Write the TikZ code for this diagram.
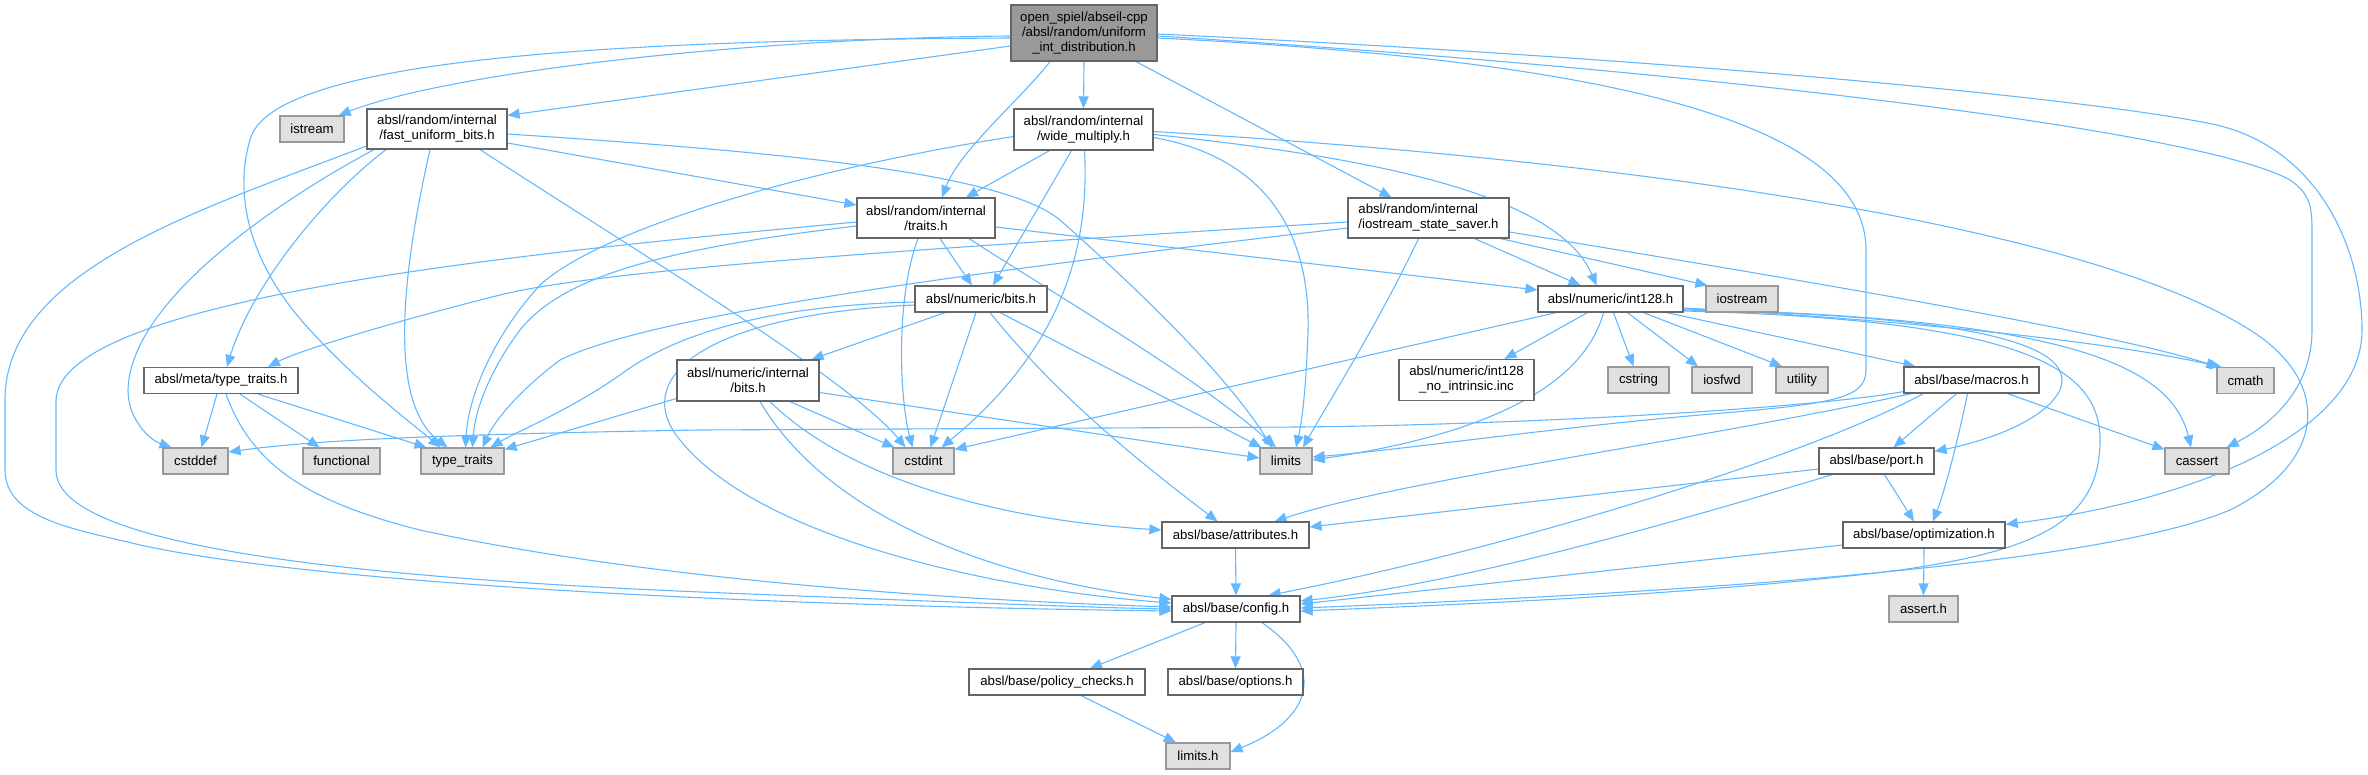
\documentclass[tikz,border=0pt]{standalone}
\usepackage{fontspec}
\setmainfont{Liberation Sans}
\usetikzlibrary{arrows.meta,calc}
\definecolor{edgec}{HTML}{63B8FF}
\definecolor{bord}{HTML}{666666}
\definecolor{gbord}{HTML}{999999}
\definecolor{gfill}{HTML}{E0E0E0}
\definecolor{topfill}{HTML}{999999}
\pgfdeclarelayer{bg}
\pgfsetlayers{bg,main}
\tikzset{
  nd/.style={draw=bord, fill=white, line width=1.2pt, inner sep=0pt, minimum height=26pt,
     font=\fontsize{13.2}{15}\selectfont, align=center, text=black},
  ext/.style={nd, draw=gbord, fill=gfill},
  topnd/.style={nd, fill=topfill, draw=bord},
  ed/.style={draw=edgec, line width=1.1pt, -{Triangle[length=12pt,width=10pt]}},
}
\begin{document}
\begin{tikzpicture}[x=1pt,y=-1pt]
\useasboundingbox (0,0) rectangle (2368,774);
% nodes
\node[topnd, minimum width=146pt, minimum height=56pt] (T) at (1084,33) {open\_spiel/abseil-cpp\\/absl/random/uniform\\\_int\_distribution.h};
\node[ext, minimum width=64pt] (istream) at (312,129) {istream};
\node[nd, minimum width=140pt, minimum height=40pt] (fub) at (437,129) {absl/random/internal\\/fast\_uniform\_bits.h};
\node[nd, minimum width=139pt, minimum height=41pt] (wm) at (1083.5,129.5) {absl/random/internal\\/wide\_multiply.h};
\node[nd, minimum width=138pt, minimum height=40pt] (tr) at (926,218) {absl/random/internal\\/traits.h};
\node[nd, minimum width=161pt, minimum height=40pt, align=left] (iss) at (1428.5,218) {absl/random/internal\\/iostream\_state\_saver.h};
\node[nd, minimum width=132pt] (nb) at (981,299) {absl/numeric/bits.h};
\node[nd, minimum width=145pt] (i128) at (1610.5,299) {absl/numeric/int128.h};
\node[ext, minimum width=72pt] (iostream) at (1742,299) {iostream};
\node[nd, minimum width=154pt] (mtt) at (221,380.5) {absl/meta/type\_traits.h};
\node[nd, minimum width=142pt, minimum height=41pt] (nib) at (748,380.5) {absl/numeric/internal\\/bits.h};
\node[nd, minimum width=135pt, minimum height=41pt] (ni) at (1466.5,380) {absl/numeric/int128\\\_no\_intrinsic.inc};
\node[ext, minimum width=61pt] (cstring) at (1638.5,380) {cstring};
\node[ext, minimum width=60pt] (iosfwd) at (1722,380) {iosfwd};
\node[ext, minimum width=52pt] (utility) at (1802,380) {utility};
\node[nd, minimum width=135pt] (macros) at (1971.5,380) {absl/base/macros.h};
\node[ext, minimum width=57pt] (cmath) at (2245.5,380.5) {cmath};
\node[ext, minimum width=65pt] (cstddef) at (195.5,461) {cstddef};
\node[ext, minimum width=77pt] (functional) at (341.5,461) {functional};
\node[ext, minimum width=83pt] (typetraits) at (462.5,461) {type\_traits};
\node[ext, minimum width=61pt] (cstdint) at (923.5,461) {cstdint};
\node[ext, minimum width=52pt] (limits) at (1286,461) {limits};
\node[nd, minimum width=115pt] (port) at (1876.5,461) {absl/base/port.h};
\node[ext, minimum width=64pt] (cassert) at (2197,461) {cassert};
\node[nd, minimum width=147pt] (attr) at (1235.5,535) {absl/base/attributes.h};
\node[nd, minimum width=162pt] (opt) at (1924,535) {absl/base/optimization.h};
\node[nd, minimum width=128pt] (config) at (1236,609) {absl/base/config.h};
\node[ext, minimum width=69pt] (asserth) at (1923.5,609) {assert.h};
\node[nd, minimum width=176pt] (policy) at (1057,682) {absl/base/policy\_checks.h};
\node[nd, minimum width=135pt] (options) at (1235.5,682) {absl/base/options.h};
\node[ext, minimum width=64pt] (limitsh) at (1198,756) {limits.h};
\begin{pgfonlayer}{bg}
% top node
\draw[ed] ($(T.west)+(0,3)$) .. controls (750,38) and (450,72) .. ($(istream.north east)+(-6,0)$);
\draw[ed] ($(T.west)+(0,5)$) .. controls (600,40) and (270,60) .. (250,140) .. controls (235,190) and (245,260) .. (310,330) .. controls (360,385) and (420,430) .. ($(typetraits.north)+(-22,0)$);
\draw[ed] ($(T.west)+(0,13)$) -- ($(fub.north east)+(0,7)$);
\draw[ed] ($(T.south)+(-34,0)$) .. controls (1020,100) and (960,150) .. ($(tr.north)+(16,0)$);
\draw[ed] (T.south) -- (wm.north);
\draw[ed] ($(T.south)+(52,0)$) -- ($(iss.north)+(-37,0)$);
\draw[ed] ($(T.east)+(0,5)$) .. controls (1600,60) and (1866,120) .. (1866,250) -- (1866,370) .. controls (1866,400) and (1830,404) .. (1700,415) .. controls (1550,428) and (1400,450) .. ($(limits.east)+(0,-4)$);
\draw[ed] ($(T.east)+(0,3)$) .. controls (1700,70) and (2200,130) .. (2290,180) .. controls (2312,195) and (2312,210) .. (2312,235) -- (2312,330) .. controls (2312,390) and (2270,425) .. ($(cassert.north east)+(-3,0)$);
\draw[ed] ($(T.east)+(0,1)$) .. controls (1700,60) and (2100,100) .. (2217,125) .. controls (2320,150) and (2362,250) .. (2362,330) .. controls (2362,430) and (2200,500) .. ($(opt.north east)+(0,3)$);
% fast_uniform_bits
\draw[ed] ($(fub.east)+(0,14)$) -- ($(tr.west)+(0,-13)$);
\draw[ed] ($(fub.east)+(0,5)$) .. controls (750,150) and (1000,170) .. (1060,220) .. controls (1150,300) and (1230,380) .. ($(limits.north)+(-14,0)$);
\draw[ed] ($(fub.south)+(43,0)$) .. controls (650,260) and (850,380) .. ($(cstdint.north)+(-18,0)$);
\draw[ed] ($(fub.south)+(-7,0)$) .. controls (405,260) and (385,400) .. ($(typetraits.north)+(-15,0)$);
\draw[ed] ($(fub.south)+(-51,0)$) .. controls (320,200) and (250,290) .. ($(mtt.north)+(6,0)$);
\draw[ed] ($(fub.south)+(-63,0)$) .. controls (280,200) and (130,300) .. (128,390) .. controls (128,420) and (150,440) .. ($(cstddef.north)+(-24,0)$);
\draw[ed] ($(fub.west)+(0,17)$) .. controls (200,210) and (5,270) .. (5,400) -- (5,470) .. controls (5,520) and (80,530) .. (140,545) .. controls (300,580) and (700,605) .. ($(config.west)+(0,2)$);
% traits
\draw[ed] ($(tr.south)+(14,0)$) -- ($(nb.north)+(-9,0)$);
\draw[ed] ($(tr.south)+(-8,0)$) .. controls (895,300) and (900,400) .. ($(cstdint.north)+(-11,0)$);
\draw[ed] ($(tr.south)+(43,0)$) .. controls (1080,310) and (1200,380) .. ($(limits.north)+(-10,0)$);
\draw[ed] ($(tr.east)+(0,9)$) -- ($(i128.west)+(0,-9)$);
\draw[ed] ($(tr.west)+(0,8)$) .. controls (650,250) and (560,280) .. (520,330) .. controls (490,370) and (475,410) .. ($(typetraits.north)+(10,0)$);
\draw[ed] ($(tr.west)+(0,4)$) .. controls (500,255) and (60,300) .. (56,400) -- (56,470) .. controls (56,540) and (300,575) .. (700,592) .. controls (900,600) and (1100,608) .. (config.west);
% wide_multiply
\draw[ed] ($(wm.south)+(-34,0)$) -- ($(tr.north)+(40,0)$);
\draw[ed] ($(wm.south)+(-12,0)$) -- ($(nb.north)+(12,0)$);
\draw[ed] ($(wm.south)+(1,0)$) .. controls (1090,250) and (1060,350) .. ($(cstdint.north)+(18,0)$);
\draw[ed] ($(wm.east)+(0,8)$) .. controls (1280,160) and (1310,250) .. (1308,330) .. controls (1306,400) and (1300,430) .. ($(limits.north)+(10,0)$);
\draw[ed] ($(wm.east)+(0,5)$) .. controls (1400,160) and (1560,200) .. ($(i128.north)+(-14,0)$);
\draw[ed] ($(wm.west)+(0,7)$) .. controls (800,170) and (600,230) .. (540,285) .. controls (490,340) and (468,400) .. ($(typetraits.north)+(3,0)$);
\draw[ed] ($(wm.east)+(0,2)$) .. controls (1700,165) and (2100,235) .. (2250,330) .. controls (2330,380) and (2330,460) .. (2230,510) .. controls (2100,565) and (1700,592) .. ($(config.east)+(0,-1)$);
% iostream_state_saver
\draw[ed] ($(iss.south)+(46,0)$) -- ($(i128.north)+(-30,0)$);
\draw[ed] ($(iss.south east)+(-9,0)$) -- ($(iostream.north west)+(2,0)$);
\draw[ed] ($(iss.east)+(0,14)$) .. controls (1800,280) and (2100,330) .. ($(cmath.north west)+(2,0)$);
\draw[ed] ($(iss.south)+(-10,0)$) .. controls (1380,320) and (1330,400) .. ($(limits.north)+(17,0)$);
\draw[ed] ($(iss.west)+(0,4)$) .. controls (900,250) and (600,270) .. (500,295) .. controls (400,320) and (300,350) .. ($(mtt.north)+(47,0)$);
\draw[ed] ($(iss.west)+(0,10)$) .. controls (900,280) and (640,320) .. (560,360) .. controls (520,390) and (495,420) .. ($(typetraits.north)+(20,0)$);
% numeric/bits.h
\draw[ed] ($(nb.south)+(-36,0)$) -- ($(nib.north east)+(-8,0)$);
\draw[ed] ($(nb.south)+(-5,0)$) -- ($(cstdint.north)+(7,0)$);
\draw[ed] ($(nb.south)+(19,0)$) -- ($(limits.north west)+(2,0)$);
\draw[ed] ($(nb.south)+(9,0)$) .. controls (1060,400) and (1150,470) .. ($(attr.north)+(-18,0)$);
\draw[ed] ($(nb.west)+(0,3)$) .. controls (780,305) and (680,330) .. (620,375) .. controls (570,410) and (520,430) .. ($(typetraits.north)+(28,0)$);
\draw[ed] ($(nb.west)+(0,6)$) .. controls (700,315) and (630,380) .. (680,440) .. controls (760,540) and (1000,590) .. ($(config.west)+(0,-6)$);
% numeric/internal/bits.h
\draw[ed] ($(nib.west)+(0,18)$) -- ($(typetraits.north east)+(0,2)$);
\draw[ed] ($(nib.south)+(42,0)$) -- ($(cstdint.north west)+(2,0)$);
\draw[ed] ($(nib.east)+(0,12)$) -- ($(limits.west)+(0,-3)$);
\draw[ed] ($(nib.south)+(22,0)$) .. controls (850,480) and (1000,520) .. ($(attr.west)+(0,-5)$);
\draw[ed] ($(nib.south)+(12,0)$) .. controls (830,520) and (1000,580) .. ($(config.north west)+(0,4)$);
% meta/type_traits.h
\draw[ed] ($(mtt.south)+(-4,0)$) -- ($(cstddef.north)+(6,0)$);
\draw[ed] ($(mtt.south)+(19,0)$) -- ($(functional.north)+(-22,0)$);
\draw[ed] ($(mtt.south)+(37,0)$) -- ($(typetraits.north west)+(6,0)$);
\draw[ed] ($(mtt.south)+(5,0)$) .. controls (250,460) and (300,500) .. (420,530) .. controls (650,580) and (950,600) .. ($(config.west)+(0,-2)$);
% int128.h
\draw[ed] ($(i128.south)+(-23,0)$) -- ($(ni.north)+(38,0)$);
\draw[ed] ($(i128.south)+(3,0)$) -- ($(cstring.north)+(-5,0)$);
\draw[ed] ($(i128.south)+(17,0)$) -- ($(iosfwd.north)+(-24,0)$);
\draw[ed] ($(i128.south)+(33,0)$) -- ($(utility.north)+(-20,0)$);
\draw[ed] ($(i128.south east)+(-17,0)$) -- ($(macros.north west)+(12,0)$);
\draw[ed] ($(i128.east)+(0,9)$) .. controls (1900,320) and (2100,340) .. ($(cmath.north west)+(5,0)$);
\draw[ed] ($(i128.east)+(0,10)$) .. controls (2050,318) and (2170,360) .. ($(cassert.north)+(-6,0)$);
\draw[ed] ($(i128.east)+(0,11)$) .. controls (1950,315) and (2080,340) .. (2060,390) .. controls (2045,420) and (1990,440) .. ($(port.north east)+(0,4)$);
\draw[ed] ($(i128.east)+(0,12)$) .. controls (2030,320) and (2100,370) .. (2100,440) .. controls (2100,520) and (2040,550) .. (1900,570) .. controls (1700,595) and (1450,605) .. ($(config.east)+(0,2)$);
\draw[ed] ($(i128.south)+(-7,0)$) .. controls (1580,400) and (1450,440) .. ($(limits.east)+(0,-1)$);
\draw[ed] ($(i128.south west)+(19,0)$) -- ($(cstdint.north east)+(0,2)$);
% macros.h
\draw[ed] ($(macros.south)+(-15,0)$) -- ($(port.north)+(17,0)$);
\draw[ed] ($(macros.south)+(-4,0)$) .. controls (1958,440) and (1945,490) .. ($(opt.north)+(9,0)$);
\draw[ed] ($(macros.south east)+(-32,0)$) -- ($(cassert.north west)+(0,2)$);
\draw[ed] ($(macros.south west)+(0,-2)$) .. controls (1800,410) and (1500,425) .. (1300,427) -- (700,430) .. controls (400,435) and (300,442) .. ($(cstddef.east)+(0,-9)$);
\draw[ed] ($(macros.south west)+(8,0)$) .. controls (1700,440) and (1400,480) .. ($(attr.north east)+(-35,0)$);
\draw[ed] ($(macros.south west)+(20,0)$) .. controls (1800,460) and (1500,550) .. ($(config.north east)+(-32,0)$);
% port.h
\draw[ed] ($(port.west)+(0,8)$) -- ($(attr.east)+(0,-8)$);
\draw[ed] ($(port.south west)+(14,0)$) .. controls (1650,530) and (1450,585) .. ($(config.east)+(0,-8)$);
\draw[ed] ($(port.south)+(8,0)$) -- ($(opt.north)+(-10,0)$);
% optimization.h
\draw[ed] (opt.south) -- (asserth.north);
\draw[ed] ($(opt.west)+(0,10)$) -- ($(config.east)+(0,-5)$);
% attributes / config
\draw[ed] (attr.south) -- (config.north);
\draw[ed] ($(config.south)+(-31,0)$) -- ($(policy.north)+(33,0)$);
\draw[ed] (config.south) -- (options.north);
\draw[ed] ($(config.south)+(26,0)$) .. controls (1330,670) and (1310,720) .. ($(limitsh.east)+(0,-4)$);
\draw[ed] ($(policy.south)+(24,0)$) -- ($(limitsh.north)+(-22,0)$);
\end{pgfonlayer}
\end{tikzpicture}
\end{document}
